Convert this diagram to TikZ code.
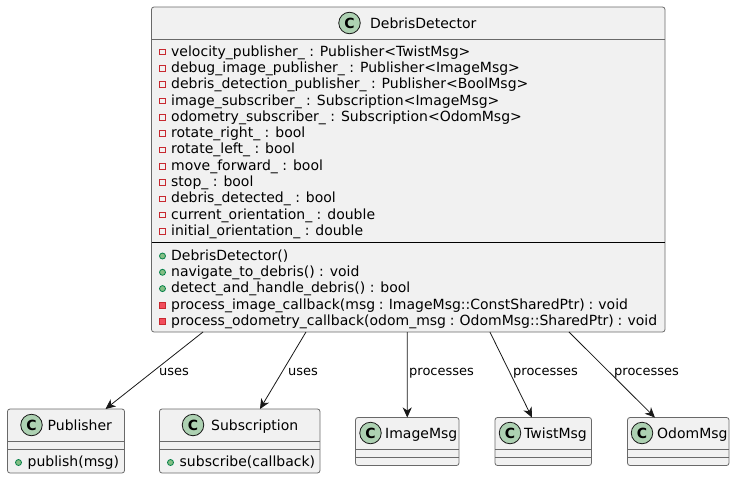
\documentclass[tikz,border=0pt]{standalone}
\usepackage{fontspec}
\setmainfont{DejaVu Sans}
\usetikzlibrary{arrows.meta,calc,positioning}
\definecolor{boxfill}{HTML}{F1F1F1}
\definecolor{boxline}{HTML}{181818}
\definecolor{iconfill}{HTML}{ADD1B2}
\definecolor{privred}{HTML}{C82930}
\definecolor{privfill}{HTML}{F24D5C}
\definecolor{pubgreen}{HTML}{038048}
\definecolor{pubfill}{HTML}{84BE84}
\tikzset{
  classbox/.style={draw=boxline!65,fill=boxfill,line width=0.8pt,rounded corners=2.5pt,inner sep=0pt,outer sep=0pt},
  sepline/.style={draw=boxline!65,line width=0.8pt},
  icon/.style={circle,draw=boxline,fill=iconfill,line width=0.8pt,minimum size=21.5pt,inner sep=0pt,font=\fontsize{14}{14}\selectfont\bfseries},
  classname/.style={anchor=base west,inner sep=0pt,font=\fontsize{14}{16}\selectfont,text=black},
  member/.style={anchor=base west,inner sep=0pt,font=\fontsize{14}{16}\selectfont,text=black},
  edgetext/.style={anchor=base west,inner sep=0pt,font=\fontsize{13}{15}\selectfont,text=black},
  privfield/.style={draw=privred,line width=0.8pt,minimum size=5.5pt,inner sep=0pt},
  privmethod/.style={draw=privred,fill=privfill,line width=0.8pt,minimum size=6pt,inner sep=0pt},
  pubmethod/.style={circle,draw=pubgreen,fill=pubfill,line width=0.8pt,minimum size=6pt,inner sep=0pt},
  assoc/.style={draw=boxline,line width=0.8pt,-{Stealth[inset=3pt,length=10pt,width=9pt]}}
}
\begin{document}
\begin{tikzpicture}[x=1pt,y=-1pt]
    \useasboundingbox (0,0) rectangle (735,479);

    % class boxes
    \node[classbox,minimum width=513.5pt,minimum height=325pt] (DebrisDetector) at (408.25,169.5) {};
    \node[classbox,minimum width=117pt,minimum height=64pt] (Publisher) at (66,441) {};
    \node[classbox,minimum width=160.5pt,minimum height=64pt] (Subscription) at (239.75,441) {};
    \node[classbox,minimum width=103.5pt,minimum height=48pt] (ImageMsg) at (407.25,441.5) {};
    \node[classbox,minimum width=96.5pt,minimum height=48pt] (TwistMsg) at (543.25,441.5) {};
    \node[classbox,minimum width=101.5pt,minimum height=48pt] (OdomMsg) at (678.25,441.5) {};

    % header icons and names
    \node[icon] (iconDebris) at (349.5,23) {C};
    \node[classname] (nameDebris) at (370,28) {DebrisDetector};
    \node[icon] (iconPub) at (31.5,425) {C};
    \node[classname] (namePub) at (47.5,430) {Publisher};
    \node[icon] (iconSub) at (193,425) {C};
    \node[classname] (nameSub) at (211,430) {Subscription};
    \node[icon] (iconImage) at (370.5,433) {C};
    \node[classname] (nameImage) at (385,438) {ImageMsg};
    \node[icon] (iconTwist) at (510,433) {C};
    \node[classname] (nameTwist) at (524,438) {TwistMsg};
    \node[icon] (iconOdom) at (642,433) {C};
    \node[classname] (nameOdom) at (657,438) {OdomMsg};

    % compartments
    \draw[sepline] (DebrisDetector.west |- 0,39.5) -- (DebrisDetector.east |- 0,39.5);
    \draw[draw=black,line width=0.8pt] (DebrisDetector.west |- 0,242.5) -- (DebrisDetector.east |- 0,242.5);
    \foreach \cname/\ya/\yb in {Publisher/441/449,Subscription/441/449,ImageMsg/449.5/457,TwistMsg/449.5/457,OdomMsg/449.5/457} {
      \draw[sepline] (\cname.west |- 0,\ya) -- (\cname.east |- 0,\ya);
      \draw[sepline] (\cname.west |- 0,\yb) -- (\cname.east |- 0,\yb);
    }

    % fields
    \foreach \y/\txt [count=\i] in {
      51/{velocity\_publisher\_ : Publisher<TwistMsg>},
      67.3/{debug\_image\_publisher\_ : Publisher<ImageMsg>},
      83.6/{debris\_detection\_publisher\_ : Publisher<BoolMsg>},
      100/{image\_subscriber\_ : Subscription<ImageMsg>},
      116.3/{odometry\_subscriber\_ : Subscription<OdomMsg>},
      132.6/{rotate\_right\_ : bool},
      148.9/{rotate\_left\_ : bool},
      165.2/{move\_forward\_ : bool},
      181.5/{stop\_ : bool},
      197.8/{debris\_detected\_ : bool},
      214.1/{current\_orientation\_ : double},
      230.4/{initial\_orientation\_ : double}} {
      \node[privfield] (fieldmark\i) at (162.5,\y+1) {};
      \node[member] (field\i) at (171,\y+5) {\txt};
    }

    % methods
    \foreach \y/\kind/\txt [count=\i] in {
      255/pubmethod/{DebrisDetector()},
      271.3/pubmethod/{navigate\_to\_debris() : void},
      287.6/pubmethod/{detect\_and\_handle\_debris() : bool},
      304/privmethod/{\spaceskip=3.7pt process\_image\_callback(msg : ImageMsg::ConstSharedPtr) : void},
      320.3/privmethod/{\spaceskip=3.7pt process\_odometry\_callback(odom\_msg : OdomMsg::SharedPtr) : void}} {
      \node[\kind] (methodmark\i) at (162.5,\y+1) {};
      \node[member] (method\i) at (171,\y+5) {\txt};
    }

    \node[pubmethod] (pubmark) at (18.5,462.5) {};
    \node[member] (publish) at (27.5,466) {publish(msg)};
    \node[pubmethod] (submark) at (170.5,462.5) {};
    \node[member] (subscribe) at (179.5,466) {subscribe(callback)};

    % associations
    \draw[assoc] ($(DebrisDetector.south west)!0.1003!(DebrisDetector.south east)$) -- ($(Publisher.north west)!0.8376!(Publisher.north east)$);
    \draw[assoc] ($(DebrisDetector.south west)!0.3008!(DebrisDetector.south east)$) -- ($(Subscription.north west)!0.626!(Subscription.north east)$);
    \draw[assoc] ($(DebrisDetector.south west)!0.498!(DebrisDetector.south east)$) -- (ImageMsg.north);
    \draw[assoc] ($(DebrisDetector.south west)!0.659!(DebrisDetector.south east)$) -- ($(TwistMsg.north west)!0.383!(TwistMsg.north east)$);
    \draw[assoc] ($(DebrisDetector.south west)!0.813!(DebrisDetector.south east)$) -- ($(OdomMsg.north west)!0.27!(OdomMsg.north east)$);

    \node[edgetext] (usesPub) at (159,375) {uses};
    \node[edgetext] (usesSub) at (288,375) {uses};
    \node[edgetext] (procImage) at (409,375) {processes};
    \node[edgetext] (procTwist) at (513,375) {processes};
    \node[edgetext] (procOdom) at (614,375) {processes};
\end{tikzpicture}
\end{document}
